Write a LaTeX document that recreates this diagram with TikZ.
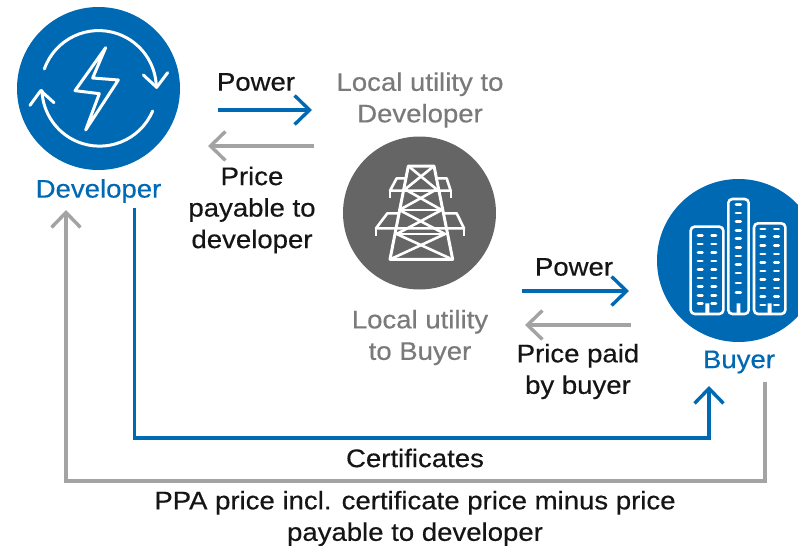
\documentclass[tikz,border=0pt]{standalone}
\usepackage{fontspec}
\setmainfont[FakeStretch=1.085,FakeBold=0.4]{Liberation Sans}
\usetikzlibrary{arrows.meta}
\definecolor{ablue}{HTML}{0069B4}
\definecolor{agray}{HTML}{A3A3A3}
\definecolor{adark}{HTML}{646564}
\definecolor{atext}{HTML}{151515}
\definecolor{ltext}{HTML}{7A7A7A}
\tikzset{
 barb/.tip={Straight Barb[length=15pt,width=29pt,line width=3.4pt]},
 conn/.style={line width=3.4pt,-{barb},line join=miter},
 lbl/.style={font=\fontsize{25.4}{31.5}\selectfont,align=center,text=atext,inner sep=0pt},
 glbl/.style={lbl,text=ltext},
 blbl/.style={lbl,text=ablue},
 icon/.style={draw=white,line width=3pt,line cap=round,line join=round},
 iconthin/.style={draw=white,line width=2.6pt,line join=round},
}
\begin{document}
\begin{tikzpicture}[x=1pt,y=1pt,yscale=-1]
\useasboundingbox (0,0) rectangle (798,546);
\fill[white] (0,0) rectangle (798,546);
\node[circle,fill=ablue,minimum size=163pt,inner sep=0pt] (dev) at (98.5,88.5) {};
\node[circle,fill=adark,minimum size=153pt,inner sep=0pt] (util) at (419.5,213) {};
\begin{scope}
\clip (0,0) rectangle (798,546);
\node[circle,fill=ablue,minimum size=163pt,inner sep=0pt] (buy) at (738.5,260.5) {};
\end{scope}
% developer icon
\begin{scope}[scale=1/3]
\draw[icon] (133,207) arc[start angle=-160.5,end angle=-1,radius=173];
\draw[icon] (458,333) arc[start angle=23,end angle=178,radius=173];
\draw[icon] (430,225) -- (470,262) -- (503,218);
\draw[icon] (90,316) -- (122,272) -- (162,308);
\draw[icon] (317,143) -- (225,272) -- (298,281) -- (257,390) -- (355,240) -- (278,234) -- cycle;
\end{scope}
% pylon icon
\begin{scope}[shift={(330,130)},scale=1/3]
\draw[iconthin,line width=3pt] (235,108) -- (180,388) -- (368,388) -- (312,108) -- cycle;
\draw[iconthin] (228,145) -- (200,145) -- (180,182) -- (362,182) -- (350,145) -- (320,145);
\draw[iconthin] (207,250) -- (172,250) -- (138,295) -- (402,295) -- (380,250) -- (340,250);
\draw[iconthin] (235,108) -- (320,178) -- (208,240) -- (345,312) -- (187,385);
\draw[iconthin] (312,108) -- (225,178) -- (335,240) -- (200,312) -- (360,385);
\draw[iconthin] (215,240) -- (335,240);
\draw[iconthin] (198,312) -- (350,312);
\draw[iconthin,line width=2pt] (180,182) -- (180,205) (362,182) -- (362,205) (138,295) -- (138,318) (402,295) -- (402,318);
\end{scope}
% buyer icon
\begin{scope}[shift={(640,170)},scale=1/3]
\draw[iconthin,rounded corners=4pt] (152,170) rectangle (250,432);
\draw[iconthin,rounded corners=4pt] (265,87) rectangle (326,432);
\draw[iconthin,rounded corners=4pt] (342,160) rectangle (436,432);
\foreach \y in {196,222,248,273,298,324,350,376,400}{
 \draw[white,line width=2.8pt,line cap=round] (174,\y) -- (187,\y) (215,\y) -- (228,\y);}
\foreach \y in {177,200,226,252,278,303,328,354,379,405}{
 \draw[white,line width=2.8pt,line cap=round] (362,\y) -- (375,\y) (403,\y) -- (416,\y);}
\foreach \y in {103,129,155,181,206,232,258,283,309,339,367}{
 \draw[white,line width=2.8pt,line cap=round] (288,\y) -- (302,\y);}
\fill[white] (196,400) rectangle (208,432) (290,400) rectangle (301,432) (383,400) rectangle (395,432);
\end{scope}
% labels
\node[blbl] (ldev) at (98.5,191) {Developer};
\node[blbl] (lbuy) at (739,362) {Buyer};
\node[lbl] (p1) at (256,82) {Power};
\node[glbl] (l1) at (420,100) {Local utility to\\Developer};
\node[lbl] (pp) at (252,210) {Price\\payable to\\developer};
\node[lbl] (p2) at (574,267) {Power};
\node[glbl] (l2) at (420,337.5) {Local utility\\to Buyer};
\node[lbl] (pb) at (578,371.5) {Price paid\\by buyer};
\node[lbl] (cert) at (415,458) {Certificates};
\node[lbl] (ppa) at (415,518.5) {PPA price incl. certificate price minus price\\payable to developer};
% connectors
\coordinate (a1s) at (218,110); \coordinate (a1e) at (312,110);
\coordinate (a2s) at (314,146); \coordinate (a2e) at (208,146);
\coordinate (a3s) at (522,291); \coordinate (a3e) at (629,291);
\coordinate (a4s) at (631,325); \coordinate (a4e) at (525,325);
\coordinate (c1) at (134.5,208); \coordinate (c2) at (134.5,438); \coordinate (c3) at (709,438); \coordinate (c4) at (709,386);
\coordinate (d1) at (765,382); \coordinate (d2) at (765,481); \coordinate (d3) at (66,481); \coordinate (d4) at (66,210);
\draw[conn,ablue] (a1s) -- (a1e);
\draw[conn,agray] (a2s) -- (a2e);
\draw[conn,ablue] (a3s) -- (a3e);
\draw[conn,agray] (a4s) -- (a4e);
\draw[conn,ablue] (c1) -- (c2) -- (c3) -- (c4);
\draw[conn,agray] (d1) -- (d2) -- (d3) -- (d4);
\end{tikzpicture}
\end{document}
